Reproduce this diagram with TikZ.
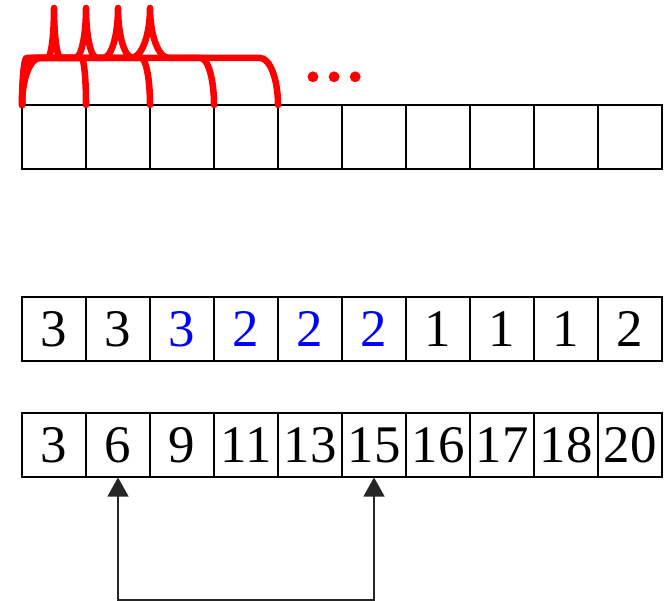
\documentclass[tikz,border=0pt]{standalone}
\usepackage{fontspec}
\setmainfont{Liberation Serif}
\usetikzlibrary{arrows.meta}

\tikzset{
    cell/.style={draw, line width=0.9pt, minimum width=1cm, minimum height=1cm,
        inner sep=0pt, outer sep=0pt, font=\fontsize{23.5}{27}\selectfont},
    brace/.style={draw=red, line width=2.9pt, line cap=round, line join=round},
    link/.style={draw=black!85, line width=0.6pt, >={Triangle[width=0.33cm,length=0.3cm]}},
}

\begin{document}
\begin{tikzpicture}

    \useasboundingbox (0,0) rectangle (10.5,-9.39);

    % Empty row
    \foreach \i in {0,...,9}
        \node[cell] (a\i) at (0.844+\i,-2.14) {};

    % Row of counts
    \foreach \v/\c [count=\i from 0] in {3/black,3/black,3/blue,2/blue,2/blue,2/blue,1/black,1/black,1/black,2/black}
        \node[cell, text=\c] (b\i) at (0.844+\i,-5.14) {\v};

    % Row of sums
    \foreach \v [count=\i from 0] in {3,6,9,11,13,15,16,17,18,20}
        \node[cell] (c\i) at (0.844+\i,-6.96) {\raisebox{-2pt}{\v}};

    % Braces over the first cells
    \foreach \k in {1,...,4} {
        \pgfmathsetmacro{\r}{0.07*\k}
        \pgfmathsetmacro{\w}{0.04+0.065*\k}
        \pgfmathsetmacro{\s}{\k/2-\r-\w}
        \draw[brace] (a0.north west)
            .. controls +(0,0.4) and +(-0.55*\r,0) .. ++(\r,0.734)
            -- ++(\s,0)
            .. controls +(0.6*\w,0) and +(0,-0.4) .. ++(\w,0.781)
            .. controls +(0,-0.4) and +(-0.6*\w,0) .. ++(\w,-0.781)
            -- ++(\s,0)
            .. controls +(0.55*\r,0) and +(0,0.4) .. (a\k.north west);
    }

    % Dots
    \foreach \x in {4.89,5.22,5.55}
        \fill[red] (\x,-1.2) circle[radius=0.085];

    % Link between two sums
    \coordinate (base) at (0,-9.375);
    \draw[link, <->] (c1.south) -- (c1.south |- base)
        -- (c5.south |- base) -- (c5.south);

\end{tikzpicture}
\end{document}
